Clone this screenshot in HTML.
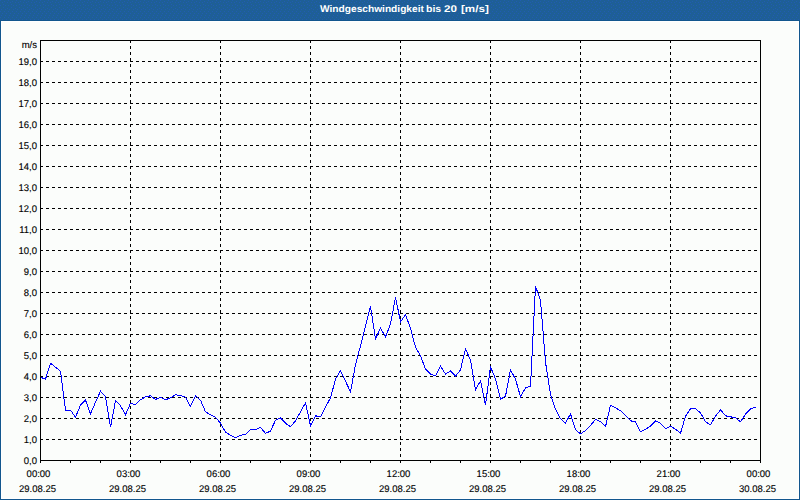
<!DOCTYPE html>
<html><head><meta charset="utf-8"><style>
html,body{margin:0;padding:0;}
body{width:800px;height:500px;overflow:hidden;background:#FBFDFB;position:relative;font-family:"Liberation Sans",sans-serif;}
#hdrb{position:absolute;left:0;top:20px;width:800px;height:1px;background:rgb(18,86,142);}
#wf{position:absolute;left:1px;top:21px;width:796px;height:476px;border:1px solid #fff;}
#bl{position:absolute;left:0;top:20px;width:1px;height:480px;background:rgb(18,86,142);}
#br{position:absolute;left:799px;top:20px;width:1px;height:480px;background:rgb(18,86,142);}
#bb{position:absolute;left:0;top:499px;width:800px;height:1px;background:rgb(18,86,142);}
svg{position:absolute;left:0;top:0;}
.g{stroke:#000;stroke-width:1;stroke-dasharray:3 3;shape-rendering:crispEdges;}
text{text-rendering:geometricPrecision;font-family:"Liberation Sans",sans-serif;font-size:9.7px;fill:#000;stroke:#000;stroke-width:0.12px;}
</style></head><body>
<svg width="800" height="20" style="position:absolute;left:0;top:0" shape-rendering="crispEdges"><defs><pattern id="dp" x="0" y="0" width="8" height="20" patternUnits="userSpaceOnUse"><rect width="8" height="20" fill="rgb(30,95,150)"/><rect x="0" y="0" width="1" height="1" fill="rgb(33,92,178)"/><rect x="4" y="1" width="1" height="1" fill="rgb(33,92,178)"/><rect x="2" y="2" width="1" height="1" fill="rgb(33,92,178)"/><rect x="7" y="2" width="1" height="1" fill="rgb(33,92,178)"/><rect x="3" y="4" width="1" height="1" fill="rgb(33,92,178)"/><rect x="5" y="5" width="1" height="1" fill="rgb(33,92,178)"/><rect x="0" y="5" width="1" height="1" fill="rgb(33,92,178)"/><rect x="3" y="7" width="1" height="1" fill="rgb(33,92,178)"/><rect x="7" y="8" width="1" height="1" fill="rgb(33,92,178)"/><rect x="5" y="9" width="1" height="1" fill="rgb(33,92,178)"/><rect x="1" y="9" width="1" height="1" fill="rgb(33,92,178)"/><rect x="4" y="11" width="1" height="1" fill="rgb(33,92,178)"/><rect x="0" y="11" width="1" height="1" fill="rgb(33,92,178)"/><rect x="6" y="13" width="1" height="1" fill="rgb(33,92,178)"/><rect x="2" y="13" width="1" height="1" fill="rgb(33,92,178)"/><rect x="5" y="15" width="1" height="1" fill="rgb(33,92,178)"/><rect x="1" y="15" width="1" height="1" fill="rgb(33,92,178)"/><rect x="4" y="17" width="1" height="1" fill="rgb(33,92,178)"/><rect x="0" y="17" width="1" height="1" fill="rgb(33,92,178)"/><rect x="6" y="19" width="1" height="1" fill="rgb(33,92,178)"/><rect x="2" y="19" width="1" height="1" fill="rgb(33,92,178)"/></pattern></defs><rect width="800" height="20" fill="url(#dp)"/></svg><div id="hdrb"></div><div id="wf"></div><div id="bl"></div><div id="br"></div><div id="bb"></div>
<svg width="800" height="500" viewBox="0 0 800 500" shape-rendering="crispEdges">
<line x1="40" y1="439.5" x2="760" y2="439.5" class="g"/>
<line x1="40" y1="418.5" x2="760" y2="418.5" class="g"/>
<line x1="40" y1="397.5" x2="760" y2="397.5" class="g"/>
<line x1="40" y1="376.5" x2="760" y2="376.5" class="g"/>
<line x1="40" y1="355.5" x2="760" y2="355.5" class="g"/>
<line x1="40" y1="334.5" x2="760" y2="334.5" class="g"/>
<line x1="40" y1="313.5" x2="760" y2="313.5" class="g"/>
<line x1="40" y1="292.5" x2="760" y2="292.5" class="g"/>
<line x1="40" y1="271.5" x2="760" y2="271.5" class="g"/>
<line x1="40" y1="250.5" x2="760" y2="250.5" class="g"/>
<line x1="40" y1="229.5" x2="760" y2="229.5" class="g"/>
<line x1="40" y1="208.5" x2="760" y2="208.5" class="g"/>
<line x1="40" y1="187.5" x2="760" y2="187.5" class="g"/>
<line x1="40" y1="166.5" x2="760" y2="166.5" class="g"/>
<line x1="40" y1="145.5" x2="760" y2="145.5" class="g"/>
<line x1="40" y1="124.5" x2="760" y2="124.5" class="g"/>
<line x1="40" y1="103.5" x2="760" y2="103.5" class="g"/>
<line x1="40" y1="82.5" x2="760" y2="82.5" class="g"/>
<line x1="40" y1="61.5" x2="760" y2="61.5" class="g"/>
<line x1="130.5" y1="40" x2="130.5" y2="460" class="g"/>
<line x1="220.5" y1="40" x2="220.5" y2="460" class="g"/>
<line x1="310.5" y1="40" x2="310.5" y2="460" class="g"/>
<line x1="400.5" y1="40" x2="400.5" y2="460" class="g"/>
<line x1="490.5" y1="40" x2="490.5" y2="460" class="g"/>
<line x1="580.5" y1="40" x2="580.5" y2="460" class="g"/>
<line x1="670.5" y1="40" x2="670.5" y2="460" class="g"/>
<path d="M40.5 460V463 M70.5 460V463 M100.5 460V463 M130.5 460V463 M160.5 460V463 M190.5 460V463 M220.5 460V463 M250.5 460V463 M280.5 460V463 M310.5 460V463 M340.5 460V463 M370.5 460V463 M400.5 460V463 M430.5 460V463 M460.5 460V463 M490.5 460V463 M520.5 460V463 M550.5 460V463 M580.5 460V463 M610.5 460V463 M640.5 460V463 M670.5 460V463 M700.5 460V463 M730.5 460V463 M760.5 460V463" stroke="#000" stroke-width="1" fill="none"/>
<polyline points="40.5,377.2 45.5,379.2 50.5,363.2 55.5,367.2 60.5,371.2 65.5,410.2 70.5,410.2 75.5,417.2 80.5,405.2 85.5,400.2 90.5,413.8 95.5,402.2 100.5,391.2 105.5,396.8 110.5,427.2 115.5,400.8 120.5,405.8 125.5,414.8 130.5,403.2 135.5,404.8 140.5,399.8 145.5,396.8 150.5,395.8 155.5,399.4 160.5,397.4 165.5,399.8 170.5,397.8 175.5,394.9 180.5,395.4 185.5,397.2 190.5,406.4 195.5,395.8 200.5,400.2 205.5,411.8 210.5,414.8 215.5,417.2 220.5,423.2 225.5,432.2 230.5,435.2 235.5,437.8 240.5,435.4 245.5,434.4 250.5,429.6 255.5,429.6 260.5,427.4 265.5,433.4 270.5,431.1 275.5,420.2 280.5,417.8 285.5,423.2 290.5,426.8 295.5,420.8 300.5,411.8 305.5,402.8 310.5,425.8 315.5,415.8 320.5,416.8 325.5,407.2 330.5,397.8 335.5,379.2 340.5,370.8 345.5,381.2 350.5,391.8 355.5,364.8 360.5,345.8 365.5,326.2 370.5,306.2 375.5,338.8 380.5,328.2 385.5,336.8 390.5,324.2 395.5,297.2 400.5,321.8 405.5,314.8 410.5,328.2 415.5,347.2 420.5,355.8 425.5,369.2 430.5,374.2 435.5,375.8 440.5,366.2 445.5,374.1 450.5,370.8 455.5,376.2 460.5,369.8 465.5,348.8 470.5,360.2 475.5,389.8 480.5,380.8 485.5,405.2 490.5,366.8 495.5,378.8 500.5,399.2 505.5,396.2 510.5,369.8 515.5,379.2 520.5,396.8 525.5,387.8 530.5,386.2 535.5,286.2 540.5,300.2 545.5,362.2 550.5,394.2 555.5,409.2 560.5,418.8 565.5,423.2 570.5,413.8 575.5,429.8 580.5,433.8 585.5,430.6 590.5,425.6 595.5,419.2 600.5,421.8 605.5,426.8 610.5,405.2 615.5,407.8 620.5,410.8 625.5,415.2 630.5,420.8 635.5,421.8 640.5,431.8 645.5,429.2 650.5,426.2 655.5,420.8 660.5,423.2 665.5,428.8 670.5,426.2 675.5,429.2 680.5,433.2 685.5,416.2 690.5,408.8 695.5,408.8 700.5,412.8 705.5,421.8 710.5,424.8 715.5,416.2 720.5,409.8 725.5,415.8 730.5,416.8 735.5,417.8 740.5,421.8 745.5,414.2 750.5,408.8 755.5,407.2" fill="none" stroke="#0000FF" stroke-width="1" shape-rendering="crispEdges"/>
<rect x="40.5" y="40.5" width="720" height="420" fill="none" stroke="#000" stroke-width="1"/>
<text transform="translate(37,464) scale(0.98,1)" text-anchor="end">0,0</text>
<text transform="translate(37,443) scale(0.98,1)" text-anchor="end">1,0</text>
<text transform="translate(37,422) scale(0.98,1)" text-anchor="end">2,0</text>
<text transform="translate(37,401) scale(0.98,1)" text-anchor="end">3,0</text>
<text transform="translate(37,380) scale(0.98,1)" text-anchor="end">4,0</text>
<text transform="translate(37,359) scale(0.98,1)" text-anchor="end">5,0</text>
<text transform="translate(37,338) scale(0.98,1)" text-anchor="end">6,0</text>
<text transform="translate(37,317) scale(0.98,1)" text-anchor="end">7,0</text>
<text transform="translate(37,296) scale(0.98,1)" text-anchor="end">8,0</text>
<text transform="translate(37,275) scale(0.98,1)" text-anchor="end">9,0</text>
<text transform="translate(37,254) scale(0.98,1)" text-anchor="end">10,0</text>
<text transform="translate(37,233) scale(0.98,1)" text-anchor="end">11,0</text>
<text transform="translate(37,212) scale(0.98,1)" text-anchor="end">12,0</text>
<text transform="translate(37,191) scale(0.98,1)" text-anchor="end">13,0</text>
<text transform="translate(37,170) scale(0.98,1)" text-anchor="end">14,0</text>
<text transform="translate(37,149) scale(0.98,1)" text-anchor="end">15,0</text>
<text transform="translate(37,128) scale(0.98,1)" text-anchor="end">16,0</text>
<text transform="translate(37,107) scale(0.98,1)" text-anchor="end">17,0</text>
<text transform="translate(37,86) scale(0.98,1)" text-anchor="end">18,0</text>
<text transform="translate(37,65) scale(0.98,1)" text-anchor="end">19,0</text>
<text transform="translate(320,12) scale(1.05,1)" style="font-weight:bold;fill:#fff;stroke:none;font-size:9.7px">Windgeschwindigkeit</text>
<text transform="translate(426,12) scale(1.08,1)" style="font-weight:bold;fill:#fff;stroke:none;font-size:9.7px">bis</text>
<text transform="translate(444,12) scale(1.2,1)" style="font-weight:bold;fill:#fff;stroke:none;font-size:9.7px">20</text>
<text transform="translate(461,12) scale(1.2,1)" style="font-weight:bold;fill:#fff;stroke:none;font-size:9.7px">[m/s]</text>
<text transform="translate(37,48) scale(0.98,1)" text-anchor="end">m/s</text>
<text transform="translate(38.5,477) scale(0.98,1)" text-anchor="middle">00:00</text>
<text transform="translate(37.5,492) scale(0.98,1)" text-anchor="middle">29.08.25</text>
<text transform="translate(128.5,477) scale(0.98,1)" text-anchor="middle">03:00</text>
<text transform="translate(127.5,492) scale(0.98,1)" text-anchor="middle">29.08.25</text>
<text transform="translate(218.5,477) scale(0.98,1)" text-anchor="middle">06:00</text>
<text transform="translate(217.5,492) scale(0.98,1)" text-anchor="middle">29.08.25</text>
<text transform="translate(308.5,477) scale(0.98,1)" text-anchor="middle">09:00</text>
<text transform="translate(307.5,492) scale(0.98,1)" text-anchor="middle">29.08.25</text>
<text transform="translate(398.5,477) scale(0.98,1)" text-anchor="middle">12:00</text>
<text transform="translate(397.5,492) scale(0.98,1)" text-anchor="middle">29.08.25</text>
<text transform="translate(488.5,477) scale(0.98,1)" text-anchor="middle">15:00</text>
<text transform="translate(487.5,492) scale(0.98,1)" text-anchor="middle">29.08.25</text>
<text transform="translate(578.5,477) scale(0.98,1)" text-anchor="middle">18:00</text>
<text transform="translate(577.5,492) scale(0.98,1)" text-anchor="middle">29.08.25</text>
<text transform="translate(668.5,477) scale(0.98,1)" text-anchor="middle">21:00</text>
<text transform="translate(667.5,492) scale(0.98,1)" text-anchor="middle">29.08.25</text>
<text transform="translate(758.5,477) scale(0.98,1)" text-anchor="middle">00:00</text>
<text transform="translate(757.5,492) scale(0.98,1)" text-anchor="middle">30.08.25</text>
</svg>
</body></html>
